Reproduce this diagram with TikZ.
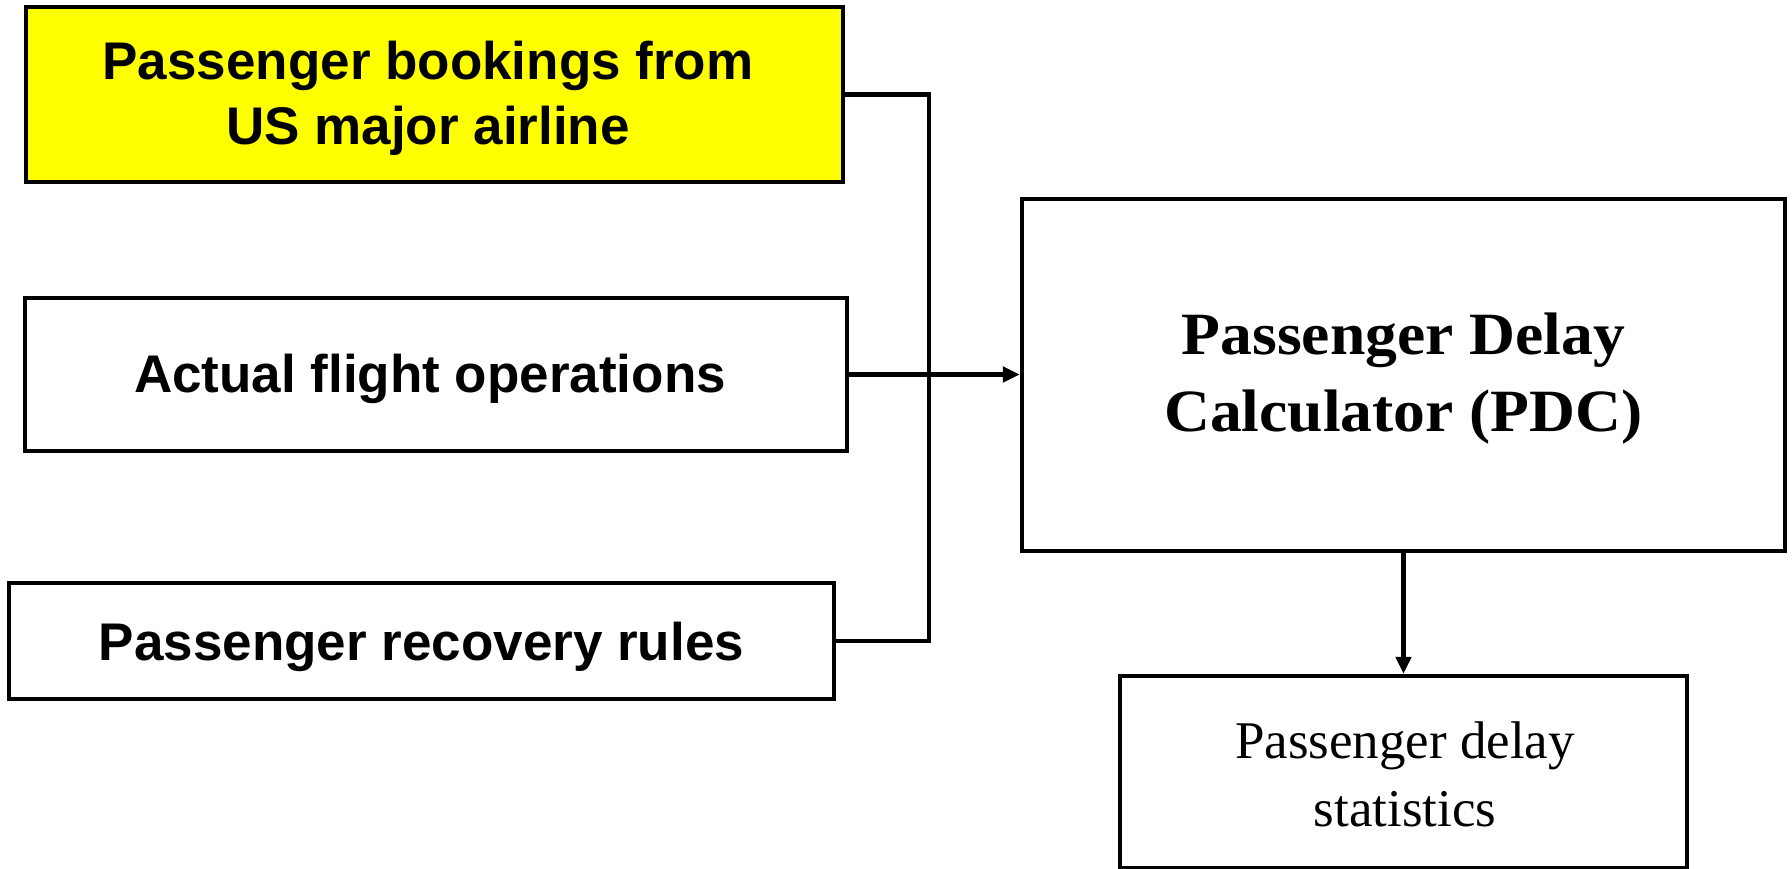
\documentclass[tikz,border=0pt]{standalone}
\usepackage{fontspec}
\setmainfont{Liberation Serif}
\setsansfont{Liberation Sans}
\newfontfamily\pdcfont{Liberation Serif}[FakeStretch=1.06]
\usetikzlibrary{arrows.meta}
\definecolor{yel}{RGB}{255,255,0}
\begin{document}
\begin{tikzpicture}[x=1pt,y=-1pt,
  box/.style={draw=black,line width=4.2pt,inner sep=0pt},
  txt/.style={inner sep=0pt,align=center},
  intxt/.style={txt,font=\sffamily\bfseries\fontsize{53}{65}\selectfont},
  pdctxt/.style={txt,font=\pdcfont\bfseries\fontsize{60}{77}\selectfont},
  outtxt/.style={txt,font=\rmfamily\fontsize{53}{68}\selectfont},
  conn/.style={line width=4.2pt},
  arr/.style={conn,-{Triangle[length=17pt,width=15pt]}}]
\useasboundingbox (0,0) rectangle (1792,869);
\node[box,fill=yel,minimum width=817pt,minimum height=175pt] (b1) at (434.5,94.5) {};
\node[box,minimum width=822pt,minimum height=153pt] (b2) at (436,374.5) {};
\node[box,minimum width=825pt,minimum height=116pt] (b3) at (421.5,641) {};
\node[box,minimum width=763pt,minimum height=352pt] (pdc) at (1403.5,375) {};
\node[box,minimum width=567pt,minimum height=192pt] (stats) at (1403.5,772) {};
\node[intxt] (t1) at (428,98.7) {Passenger bookings from\\US major airline};
\node[intxt] (t2) at (430,379) {Actual flight operations};
\node[intxt] (t3) at (421.5,647) {Passenger recovery rules};
\node[pdctxt] (t4) at (1403.5,379) {Passenger Delay\\Calculator (PDC)};
\node[outtxt] (t5) at (1405,774) {Passenger delay\\statistics};
\coordinate (j) at (929,374.5);
\draw[conn] (b1.east) -| (j) |- (b3.east);
\draw[arr] (b2.east) -- (b2.east -| pdc.west);
\draw[arr] (pdc.south) -- (stats.north);
\end{tikzpicture}
\end{document}
